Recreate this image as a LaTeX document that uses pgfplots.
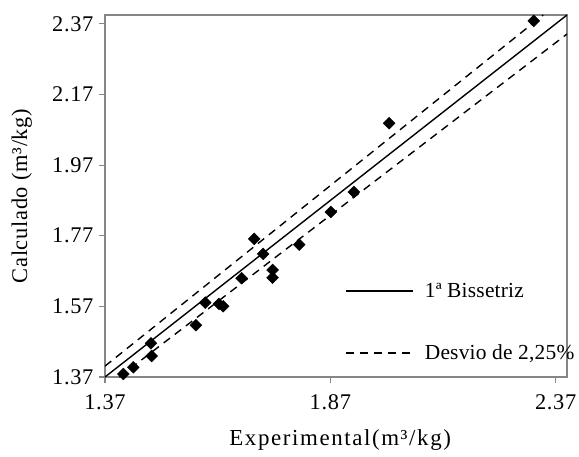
\documentclass[border=0pt]{standalone}
\usepackage{pgfplots}
\pgfplotsset{compat=1.18}
\usepackage{fontspec}
\setmainfont{Liberation Serif}[LetterSpace=3]
\newfontfamily\legfont{Liberation Serif}[LetterSpace=1]
\newfontfamily\xlabfont{Liberation Serif}[LetterSpace=7]
\definecolor{axgray}{HTML}{868686}
\begin{document}
\begin{tikzpicture}
\useasboundingbox (-105bp,-80bp) rectangle (474bp,377bp);
\begin{axis}[
  scale only axis,
  width=462bp, height=362bp,
  at={(0,0)}, anchor=south west,
  xmin=1.37, xmax=2.395, ymin=1.37, ymax=2.395,
  xtick={1.37,1.87,2.37}, xticklabels={1.37,1.87,2.37},
  ytick={1.37,1.57,1.77,1.97,2.17,2.37},
  yticklabels={1.37,1.57,1.77,1.97,2.17,2.37},
  tick pos=left, tick align=outside,
  major tick length=6bp,
  tick style={draw=axgray, line width=1.1bp},
  axis line style={draw=axgray, line width=1.3bp},
  font=\fontsize{22.5}{26}\selectfont,
  tick label style={font=\fontsize{22.5}{26}\selectfont},
  xticklabel style={yshift=-8bp},
  yticklabel style={xshift=-2bp},
  /pgf/number format/assume math mode=true,
  xlabel={Experimental(m³/kg)},
  ylabel={Calculado (m³/kg)},
  xlabel style={at={(axis description cs:0.509,-0.174)}, anchor=center, font=\xlabfont\fontsize{23}{26}\selectfont},
  ylabel style={at={(axis description cs:-0.18,0.5)}, anchor=center, rotate=0},
  legend style={draw=none, fill=none, at={(axis description cs:0.52,0.265)}, anchor=north west,
    row sep=42bp, font=\legfont\fontsize{21.5}{25}\selectfont, inner sep=0pt,
    /tikz/every odd column/.append style={column sep=9bp}},
  legend cell align=left,
  legend image code/.code={\draw[#1] (0bp,0bp) -- (67bp,0bp);},
  clip=true,
]
\addplot[black, line width=1.4bp] coordinates {(1.37,1.37) (2.395,2.395)};
\addlegendentry{1ª Bissetriz}
\addplot[black, line width=1.4bp, dash pattern=on 8bp off 6bp] coordinates {(1.37,1.4008) (2.3423,2.395)};
\addlegendentry{Desvio de 2,25\%}
\addplot[black, line width=1.4bp, dash pattern=on 8bp off 6bp, forget plot] coordinates {(1.4015,1.37) (2.395,2.3411)};
\addplot[only marks, mark=square*, mark size=4.2bp, mark options={rotate=45, fill=black, draw=black}, forget plot] coordinates {
(1.4106,1.3785)
(1.4143,1.3643)
(1.4328,1.3975)
(1.4720,1.4655)
(1.4735,1.4295)
(1.5718,1.5165)
(1.5924,1.5805)
(1.6228,1.5768)
(1.6323,1.5703)
(1.6731,1.6496)
(1.7011,1.7609)
(1.7210,1.7184)
(1.7418,1.6731)
(1.7418,1.6513)
(1.8008,1.7448)
(1.8711,1.8374)
(1.9221,1.8940)
(2.0004,2.0887)
(2.3212,2.3785)
};
\end{axis}
\end{tikzpicture}
\end{document}
